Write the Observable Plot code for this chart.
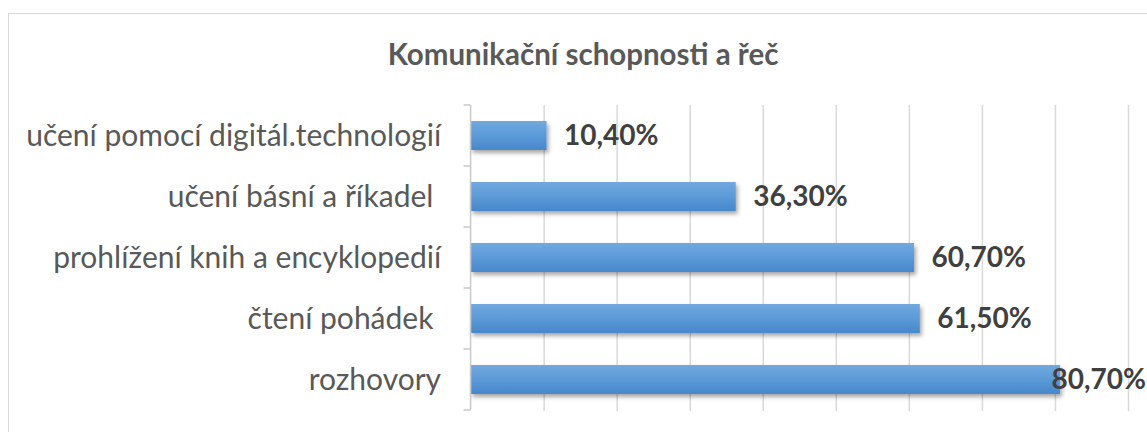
<!DOCTYPE html>
<html><head><meta charset="utf-8">
<script src="https://cdn.jsdelivr.net/npm/d3@7"></script>
<script src="https://cdn.jsdelivr.net/npm/@observablehq/plot@0.6"></script>
<style>
body{margin:0;background:#fff;width:1147px;height:432px;overflow:hidden;position:relative;font-family:Lato,"Open Sans",sans-serif;}
#frame{position:absolute;left:8px;top:13px;width:1300px;height:600px;border:1px solid #d9d9d9;}
#title{position:absolute;left:0;width:1166px;top:37px;line-height:34px;text-align:center;font-size:29.5px;font-weight:bold;color:#595959;}
#chart{position:absolute;left:0;top:0;}
</style></head>
<body>
<div id="frame"></div>
<div id="title">Komunikační schopnosti a řeč</div>
<div id="chart"></div>
<script>
const categories = ["učení pomocí digitál.technologií","učení básní a říkadel ","prohlížení knih a encyklopedií","čtení pohádek ","rozhovory"];
const values = [0.104, 0.363, 0.607, 0.615, 0.807];
const xTicks = [0,0.1,0.2,0.3,0.4,0.5,0.6,0.7,0.8,0.9];

const data = categories.map((c,i)=>({category:c, value:values[i]}));
const fmt = v => (v*100).toFixed(2).replace(".", ",") + "%";

const defs = () => {
  const ns = "http://www.w3.org/2000/svg";
  const d = document.createElementNS(ns, "defs");
  d.innerHTML = `<linearGradient id="barGrad" x1="0" y1="0" x2="0" y2="1">
      <stop offset="0" stop-color="#72a8de"/><stop offset="0.5" stop-color="#5b9ad8"/><stop offset="1" stop-color="#4787cb"/></linearGradient>
    <filter id="shadow" x="-5%" y="-30%" width="115%" height="180%">
      <feDropShadow dx="2" dy="3" stdDeviation="2" flood-color="#000" flood-opacity="0.35"/></filter>`;
  return d;
};

const bracketTicks = (index, scales, values, dims) => {
  const ns = "http://www.w3.org/2000/svg";
  const g = document.createElementNS(ns, "g");
  const y = scales.y, x0 = dims.marginLeft;
  const step = y.step ? y.step() : (dims.height - dims.marginTop - dims.marginBottom)/categories.length;
  const bw = y.bandwidth ? y.bandwidth() : 0;
  const ys = categories.map(c => y(c) - (step - bw)/2);
  ys.push(ys[ys.length-1] + step);
  let dpath = `M${x0},${ys[0]}V${ys[ys.length-1]}`;
  for (const yy of ys) dpath += `M${x0-7},${yy}H${x0}`;
  const p = document.createElementNS(ns, "path");
  p.setAttribute("d", dpath); p.setAttribute("stroke", "#c8c8c8"); p.setAttribute("stroke-width", "1.5"); p.setAttribute("fill","none");
  g.appendChild(p);
  return g;
};

const plot = Plot.plot({
  width: 1147, height: 432,
  marginLeft: 470.6, marginRight: 19, marginTop: 105, marginBottom: 21,
  style: {fontFamily: "Lato, 'Open Sans', sans-serif", background: "transparent"},
  x: {domain: [0, 0.9], axis: null},
  y: {domain: categories, paddingInner: 0.52, paddingOuter: 0.26, axis: null},
  marks: [
    defs,
    Plot.ruleX(xTicks.slice(1), {stroke: "#d9d9d9", strokeWidth: 1.5, strokeOpacity: 1}),
    Plot.barX(data, {x: "value", y: "category", fill: "url(#barGrad)"}),
    bracketTicks,
    Plot.axisY({tickSize: 0, tickPadding: 30, fontSize: 30, fill: "#595959", textAnchor: "end", label: null}),
    Plot.text(data.filter(d => d.value < 0.8), {x: "value", y: "category", text: d => fmt(d.value), textAnchor: "start", dx: 17, fontSize: 28, fontWeight: "bold", fill: "#404040"}),
    Plot.text(data.filter(d => d.value >= 0.8), {x: "value", y: "category", text: d => fmt(d.value), textAnchor: "start", dx: -9, fontSize: 28, fontWeight: "bold", fill: "#404040"})
  ]
});
plot.querySelectorAll("g[aria-label='bar'] rect").forEach(r => r.setAttribute("filter", "url(#shadow)"));
document.getElementById("chart").appendChild(plot);
</script>
</body></html>
